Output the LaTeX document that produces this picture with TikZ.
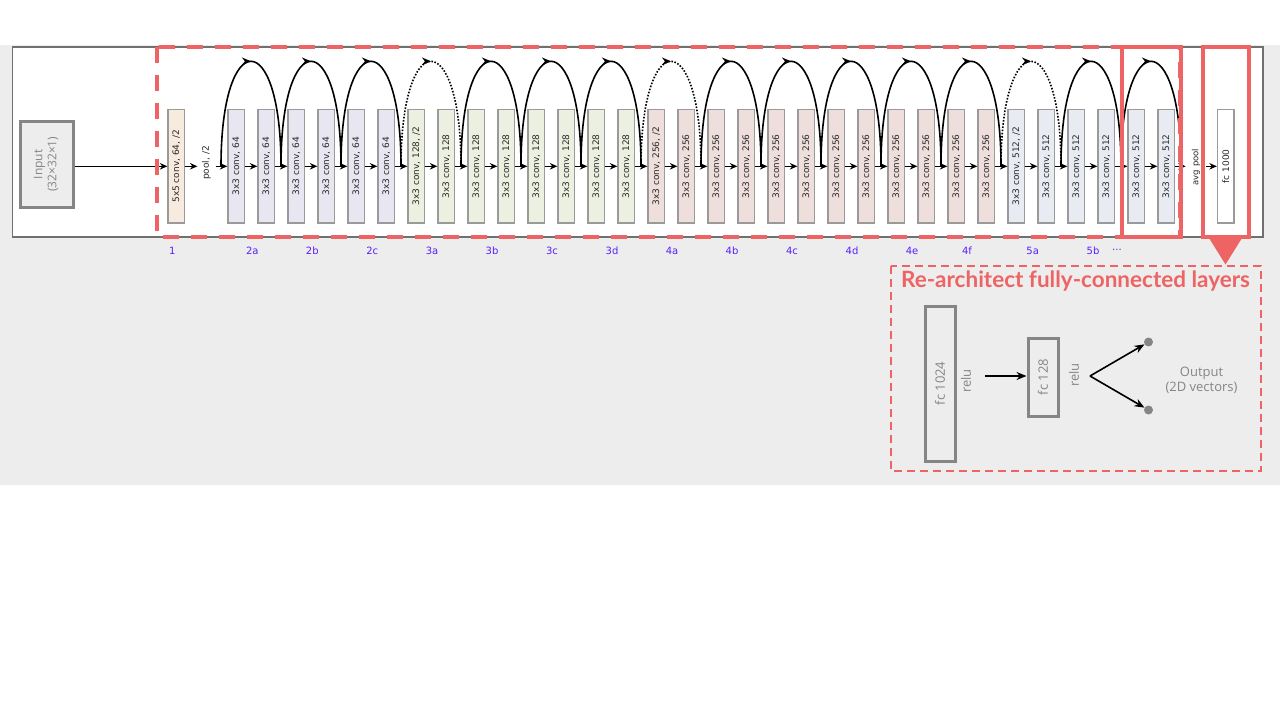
\documentclass[tikz,border=0pt]{standalone}
\usepackage{fontspec}
\usepackage{graphicx}
\setmainfont{DejaVu Sans}
\newfontfamily\osans{Open Sans}
\newfontfamily\ttl{Lato}
\usetikzlibrary{arrows.meta,decorations.markings,calc}
\definecolor{bgc}{HTML}{EDEDED}
\definecolor{redc}{HTML}{EE6464}
\definecolor{boxgray}{HTML}{9A9A9A}
\definecolor{txtdark}{HTML}{2A2A2A}
\definecolor{lblc}{HTML}{5A1EFF}
\definecolor{cone}{HTML}{F7EBDF}
\definecolor{csix}{HTML}{E8E6F0}
\definecolor{cotw}{HTML}{ECF0E0}
\definecolor{ctwo}{HTML}{EEDEDC}
\definecolor{cfiv}{HTML}{E8ECF2}
\definecolor{softgray}{HTML}{858585}
\definecolor{panelline}{HTML}{707070}
\tikzset{
  convbox/.style={draw=boxgray, line width=1.3pt, minimum width=16.5pt, minimum height=113.5pt,
    inner sep=0pt, font=\fontsize{9}{10}\selectfont, text=txtdark},
  arr/.style={line width=1.5pt, -{Stealth[length=7.5pt,width=6.5pt]}},
  arcline/.style={line width=1.6pt, postaction={decorate},
    decoration={markings, mark=at position 0.5 with {\arrow{Stealth[length=9pt,width=7.5pt]}}}},
  dotline/.style={arcline, dash pattern=on 1.6pt off 1.6pt},
  lbl/.style={text=lblc, font=\fontsize{10}{11}\selectfont},
  smalltxt/.style={text=txtdark, font=\fontsize{8.5}{9}\selectfont, inner sep=0pt},
  bigbox/.style={draw=softgray, line width=3pt, text=softgray, font=\osans\fontsize{13}{15}\selectfont, inner sep=0pt},
  softtxt/.style={text=softgray, font=\osans\fontsize{13}{15}\selectfont},
  barr/.style={line width=1.6pt, -{Stealth[length=10pt,width=8pt]}},
  redsolid/.style={draw=redc, line width=4pt},
}
\begin{document}
\begin{tikzpicture}[x=1pt,y=-1pt]
\useasboundingbox (0,0) rectangle (1280,720);
\fill[white] (0,0) rectangle (1280,720);
\fill[bgc] (0,45) rectangle (1280,485);
\draw[panelline, line width=1.2pt, fill=white] (12.5,47) rectangle (1263,237);

% input
\node[draw=softgray, line width=3pt, fill=bgc, minimum width=53pt, minimum height=86pt, inner sep=0pt,
  text=softgray, font=\osans\fontsize{12}{14}\selectfont] (input) at (46.5,164.3)
  {\rotatebox{90}{\begin{tabular}{@{}c@{}}Input\\(32×32×1)\end{tabular}}};

% conv1
\node[convbox, fill=cone] (cv1) at (176.25,166.3) {\rotatebox{90}{5x5 conv, 64, /2}};
\node[smalltxt, inner xsep=4.5pt, font=\fontsize{9}{10}\selectfont] (pool) at (206.5,163) {\rotatebox{90}{pool, /2}};

% conv boxes
\foreach \i in {1,...,6}
  \node[convbox, fill=csix] (c\i) at ({228+30*(\i-1)+8.25},166.3) {\rotatebox{90}{3x3 conv, 64}};
\node[convbox, fill=cotw] (c7) at ({228+30*6+8.25},166.3) {\rotatebox{90}{3x3 conv, 128, /2}};
\foreach \i in {8,...,14}
  \node[convbox, fill=cotw] (c\i) at ({228+30*(\i-1)+8.25},166.3) {\rotatebox{90}{3x3 conv, 128}};
\node[convbox, fill=ctwo] (c15) at ({228+30*14+8.25},166.3) {\rotatebox{90}{3x3 conv, 256, /2}};
\foreach \i in {16,...,26}
  \node[convbox, fill=ctwo] (c\i) at ({228+30*(\i-1)+8.25},166.3) {\rotatebox{90}{3x3 conv, 256}};
\node[convbox, fill=cfiv] (c27) at ({228+30*26+8.25},166.3) {\rotatebox{90}{3x3 conv, 512, /2}};
\foreach \i in {28,...,32}
  \node[convbox, fill=cfiv] (c\i) at ({228+30*(\i-1)+8.25},166.3) {\rotatebox{90}{3x3 conv, 512}};

\node[smalltxt, inner xsep=6pt] (avg) at (1196,167) {\rotatebox{90}{avg pool}};
\node[convbox, fill=white] (fc) at (1225.75,166.3) {\rotatebox{90}{fc 1000}};

% main chain
\draw[arr] (input.east |- cv1.west) -- (cv1.west);
\draw[arr] (cv1.east) -- (cv1.east -| pool.west);
\draw[arr] (pool.east |- c1.west) -- (c1.west);
\foreach \i [evaluate=\i as \j using int(\i+1)] in {1,...,31}
  \draw[arr] (c\i.east) -- (c\j.west);
\draw[arr] (c32.east) -- (c32.east -| avg.west);
\draw[arr] (avg.east |- fc.west) -- (fc.west);

% skip connections
\foreach \k in {0,...,16}
  \coordinate (j\k) at ({221+60*\k},166.3);
\foreach \k [evaluate=\k as \n using int(\k+1)] in {0,1,2,4,5,6,8,9,10,11,12,14,15}
  \draw[arcline] (j\k) .. controls +(0,-140) and +(0,-140) .. (j\n);
\foreach \k [evaluate=\k as \n using int(\k+1)] in {3,7,13}
  \draw[dotline] (j\k) .. controls +(0,-140) and +(0,-140) .. (j\n);

% stage labels
\node[lbl] (l1) at (172.3,251) {1};
\node[lbl] (l2a) at (252.3,251) {2a};
\node[lbl] (l2b) at (312.3,251) {2b};
\node[lbl] (l2c) at (372.3,251) {2c};
\node[lbl] (l3a) at (432,251) {3a};
\node[lbl] (l3b) at (492,251) {3b};
\node[lbl] (l3c) at (552,251) {3c};
\node[lbl] (l3d) at (612,251) {3d};
\node[lbl] (l4a) at (672,251) {4a};
\node[lbl] (l4b) at (732,251) {4b};
\node[lbl] (l4c) at (792,251) {4c};
\node[lbl] (l4d) at (852,251) {4d};
\node[lbl] (l4e) at (912,251) {4e};
\node[lbl] (l4f) at (967,251) {4f};
\node[lbl] (l5a) at (1032.7,251) {5a};
\node[lbl] (l5b) at (1093,251) {5b};
\node[lbl] (ldots) at (1117,250) {...};

% red highlights
\draw[draw=redc, line width=3.5pt, dash pattern=on 16pt off 12pt] (157,47) rectangle (1180,237);
\draw[redsolid] (1122,47) rectangle (1180.5,237);
\draw[redsolid] (1203,47) rectangle (1249,237);
\fill[redc] (1209,238) -- (1242,238) -- (1225.5,264.5) -- cycle;

% re-architect panel
\draw[draw=redc, line width=2pt, dash pattern=on 8pt off 5pt] (891,266) rectangle (1261,471);
\node[text=redc, font=\ttl\bfseries\fontsize{22.5}{25}\selectfont] (title) at (1075.5,281.5) {Re-architect fully-connected layers};
\node[bigbox, minimum width=30pt, minimum height=155pt] (fcA) at (940,383.5) {\rotatebox{90}{fc 1024}};
\node[softtxt] (reluA) at (966,381) {\rotatebox{90}{relu}};
\node[bigbox, minimum width=30pt, minimum height=78pt] (fcB) at (1043,377) {\rotatebox{90}{fc 128}};
\node[softtxt] (reluB) at (1074,375) {\rotatebox{90}{relu}};
\coordinate (a0) at (985,376);
\draw[barr] (a0) -- (a0 -| fcB.west);
\coordinate (split) at (1090,376);
\fill[softgray] (1148.5,342) circle (4.5pt);
\fill[softgray] (1148.5,410) circle (4.5pt);
\node[circle, inner sep=0pt, minimum size=9pt] (d1) at (1148.5,342) {};
\node[circle, inner sep=0pt, minimum size=9pt] (d2) at (1148.5,410) {};
\draw[barr] (split) -- (d1);
\draw[barr] (split) -- (d2);
\node[softtxt, align=center] (out) at (1201.5,380.5) {Output\\(2D vectors)};
\end{tikzpicture}
\end{document}
